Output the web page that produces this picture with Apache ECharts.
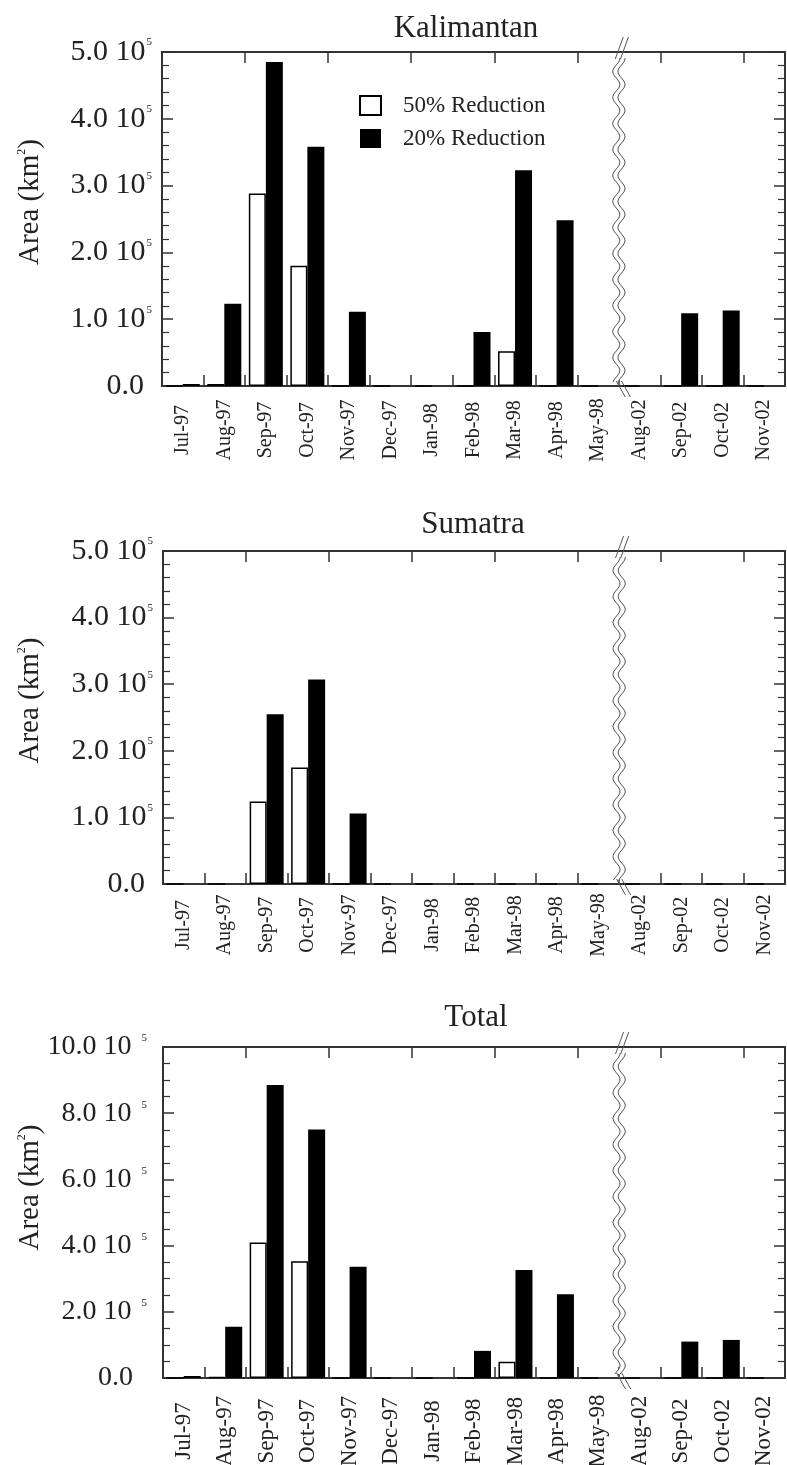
<!DOCTYPE html>
<html><head><meta charset="utf-8">
<script src="https://cdn.jsdelivr.net/npm/echarts@6/dist/echarts.min.js"></script>
<style>html,body{margin:0;padding:0;background:#fff}#c{width:787px;height:1465px}</style>
</head><body><div id="c"></div>
<script>
// ---------- data ----------
const categories = ['Jul-97','Aug-97','Sep-97','Oct-97','Nov-97','Dec-97','Jan-98','Feb-98','Mar-98','Apr-98','May-98','Aug-02','Sep-02','Oct-02','Nov-02'];
const seriesNames = ['50% Reduction','20% Reduction'];
const panelTitles = ['Kalimantan','Sumatra','Total'];
const kalimantan50 = [0, 3000, 288000, 180000, 0, 0, 0, 0, 52000, 0, 0, 0, 0, 0, 0];
const kalimantan20 = [3000, 123000, 485000, 358000, 111000, 0, 0, 81000, 323000, 248000, 0, 0, 109000, 113000, 0];
const sumatra50 = [0, 0, 124000, 175000, 0, 0, 0, 0, 0, 0, 0, 0, 0, 0, 0];
const sumatra20 = [0, 0, 255000, 307000, 106000, 0, 0, 0, 0, 0, 0, 0, 0, 0, 0];
const total50 = [0, 3000, 409000, 353000, 0, 0, 0, 0, 49000, 0, 0, 0, 0, 0, 0];
const total20 = [6000, 155000, 885000, 751000, 336000, 0, 0, 82000, 326000, 253000, 0, 0, 110000, 115000, 0];
const yMaxes = [500000, 500000, 1000000];
const yIntervals = [100000, 100000, 200000];
const breakAfter = 'May-98', breakBefore = 'Aug-02';

// ---------- layout / style ----------
const FONT = '"Liberation Serif","Times New Roman",serif';
const TXT = '#222', AX = '#333';
const gridTops = [52, 551, 1047];
const gridHeights = [334, 333, 331];
const gridLefts = [162, 163, 163];
const titleTops = [8, 504, 997];
const titleLefts = [461, 468, 471];
const xLabelMargins = [44, 41, 53];
const xLabelSizes = [20, 20, 23];
const yLabelSizes = [30, 30, 28];
const yLabelMargins = [10, 10, 16];
const supPads = [1, 1, 10];
const zeroPads = [8, 8, 14];
const namePads = [34, 34, 50];
const nameGaps = [117, 118, 118];
const minorSplits = [5, 5, 4];
const panelData = [[kalimantan50, kalimantan20], [sumatra50, sumatra20], [total50, total20]];

const chart = echarts.init(document.getElementById('c'), null, {renderer: 'canvas'});

function axLine() { return {show: true, onZero: false, lineStyle: {color: AX, width: 2}}; }
function tick() { return {show: true, inside: true, length: 11, lineStyle: {color: AX, width: 1.5}}; }
function minor(g) { return {show: true, splitNumber: minorSplits[g], length: 7, lineStyle: {color: AX, width: 1.2}}; }

const grids = [], xAxes = [], yAxes = [], series = [], titles = [];
for (let g = 0; g < 3; g++) {
  grids.push({left: gridLefts[g], right: 2, top: gridTops[g], height: gridHeights[g],
    containLabel: false, outerBoundsMode: 'none'});
  titles.push({text: panelTitles[g], left: titleLefts[g], top: titleTops[g], textAlign: 'center',
    textStyle: {fontFamily: FONT, fontSize: 31, fontWeight: 'normal', color: TXT}});
  xAxes.push({type: 'category', gridIndex: g, position: 'bottom', data: categories, boundaryGap: true,
    axisLine: axLine(), axisTick: tick(),
    axisLabel: {interval: 0, rotate: 90, align: 'center', verticalAlign: 'middle', margin: xLabelMargins[g],
      fontFamily: FONT, fontSize: xLabelSizes[g], color: TXT},
    splitLine: {show: false}});
  xAxes.push({type: 'category', gridIndex: g, position: 'top', data: categories, boundaryGap: true,
    axisLine: axLine(), axisTick: tick(), axisLabel: {show: false}, splitLine: {show: false}});
  yAxes.push({type: 'value', gridIndex: g, position: 'left', min: 0, max: yMaxes[g], interval: yIntervals[g],
    axisLine: axLine(), axisTick: tick(), minorTick: minor(g),
    splitLine: {show: false}, minorSplitLine: {show: false},
    name: '{a|Area (km}{s|2}{a|)}', nameLocation: 'middle', nameGap: nameGaps[g], nameMoveOverlap: false,
    nameTextStyle: {padding: [0, 0, 0, namePads[g]], rich: {
      a: {fontFamily: FONT, fontSize: 29, color: TXT},
      s: {fontFamily: FONT, fontSize: 12, color: TXT, verticalAlign: 'top'}}},
    axisLabel: {margin: yLabelMargins[g],
      formatter: function (v) {
        if (v === 0) return '{z|0.0}';
        return '{a|' + (v / 1e5).toFixed(1) + ' 10}{s|5}';
      },
      rich: {
        a: {fontFamily: FONT, fontSize: yLabelSizes[g], color: TXT},
        z: {fontFamily: FONT, fontSize: yLabelSizes[g], color: TXT, padding: [0, zeroPads[g], 0, 0]},
        s: {fontFamily: FONT, fontSize: 11, color: TXT, verticalAlign: 'top', padding: [0, 0, 0, supPads[g]]}
      }}});
  yAxes.push({type: 'value', gridIndex: g, position: 'right', min: 0, max: yMaxes[g], interval: yIntervals[g],
    axisLine: axLine(), axisTick: tick(), minorTick: minor(g), axisLabel: {show: false},
    splitLine: {show: false}, minorSplitLine: {show: false}});
  series.push({name: seriesNames[0], type: 'bar', xAxisIndex: g * 2, yAxisIndex: g * 2,
    data: panelData[g][0], barWidth: 17, barGap: '0%',
    itemStyle: {color: '#fff', borderColor: '#000', borderWidth: 1.5}, silent: true, animation: false});
  series.push({name: seriesNames[1], type: 'bar', xAxisIndex: g * 2, yAxisIndex: g * 2,
    data: panelData[g][1], barWidth: 17, barGap: '0%',
    itemStyle: {color: '#000', borderColor: '#000', borderWidth: 0}, silent: true, animation: false});
}

chart.setOption({
  backgroundColor: '#fff',
  animation: false,
  title: titles,
  grid: grids,
  xAxis: xAxes,
  yAxis: yAxes,
  legend: {data: seriesNames, orient: 'vertical', left: 354, top: 89, icon: 'rect',
    itemWidth: 21, itemHeight: 19, itemGap: 10, selectedMode: false,
    textStyle: {fontFamily: FONT, fontSize: 23, color: TXT, padding: [0, 0, 0, 17]}},
  series: series
});

// ---------- axis-break marks (computed from the axes) ----------
function drawBreaks() {
  const els = [];
  for (let g = 0; g < 3; g++) {
    const xa = chart.convertToPixel({xAxisIndex: g * 2}, breakAfter);
    const xb = chart.convertToPixel({xAxisIndex: g * 2}, breakBefore);
    const bx = (xa + xb) / 2;
    const top = chart.convertToPixel({yAxisIndex: g * 2}, yMaxes[g]);
    const bot = chart.convertToPixel({yAxisIndex: g * 2}, 0);
    const A = 3.5, P = 26, d = 2.6;
    const L = [], R = [];
    for (let y = top + 6; y <= bot - 4; y += 1) {
      const w = A * Math.sin(2 * Math.PI * (y - top) / P);
      L.push([bx + w - d, y]);
      R.push([bx + w + d, y]);
    }
    els.push({type: 'polygon', shape: {points: L.concat(R.slice().reverse())}, style: {fill: '#fff'}, z: 100, silent: true});
    els.push({type: 'polyline', shape: {points: L}, style: {stroke: '#555', lineWidth: 1, fill: null}, z: 101, silent: true});
    els.push({type: 'polyline', shape: {points: R}, style: {stroke: '#555', lineWidth: 1, fill: null}, z: 101, silent: true});
    els.push({type: 'line', shape: {x1: bx - d - 1, y1: top + 7, x2: bx - d + 7, y2: top - 15}, style: {stroke: '#555', lineWidth: 1}, z: 101, silent: true});
    els.push({type: 'line', shape: {x1: bx + d - 1, y1: top + 7, x2: bx + d + 7, y2: top - 15}, style: {stroke: '#555', lineWidth: 1}, z: 101, silent: true});
    els.push({type: 'line', shape: {x1: bx - d, y1: bot - 5, x2: bx - d + 9, y2: bot + 11}, style: {stroke: '#555', lineWidth: 1}, z: 101, silent: true});
    els.push({type: 'line', shape: {x1: bx + d, y1: bot - 5, x2: bx + d + 9, y2: bot + 11}, style: {stroke: '#555', lineWidth: 1}, z: 101, silent: true});
  }
  chart.setOption({graphic: els});
}
drawBreaks();
</script>
</body></html>
